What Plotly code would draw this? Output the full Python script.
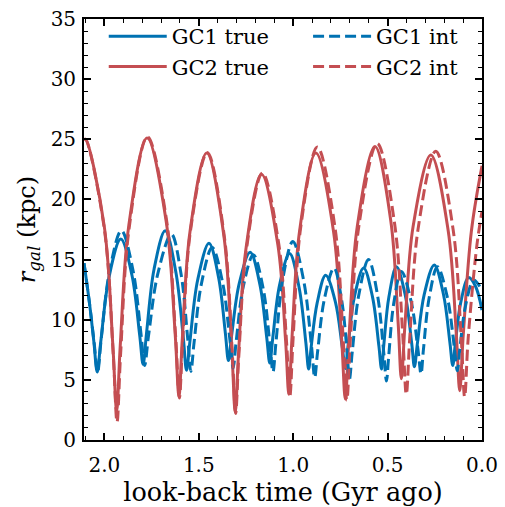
import plotly.graph_objects as go

# look-back time (Gyr ago) and galactocentric radius (kpc)
gc1_true_t = [2.108, 2.080, 2.056, 2.038, 2.019, 1.976, 1.913, 1.854, 1.813, 1.795, 1.777, 1.737, 1.678,
              1.622, 1.582, 1.565, 1.547, 1.506, 1.446, 1.395, 1.359, 1.343, 1.326, 1.286, 1.228, 1.176,
              1.140, 1.124, 1.108, 1.072, 1.019, 0.969, 0.933, 0.918, 0.905, 0.873, 0.828, 0.776, 0.740,
              0.724, 0.709, 0.676, 0.627, 0.580, 0.546, 0.532, 0.520, 0.493, 0.453, 0.406, 0.372, 0.358,
              0.342, 0.306, 0.253, 0.204, 0.170, 0.155, 0.142, 0.113, 0.071, 0.035, 0.000]
gc1_true_r = [14.7, 11.5, 8.2, 5.66, 8.2, 13.5, 16.7, 13.7, 8.7, 6.3, 8.85, 14.2, 17.4,
              14.0, 8.5, 5.8, 8.2, 13.3, 16.35, 13.5, 8.85, 6.6, 8.7, 13.0, 15.6, 12.9,
              8.5, 6.4, 8.5, 12.9, 15.5, 12.7, 8.1, 5.9, 7.7, 11.4, 13.7, 11.45, 7.7,
              5.95, 7.9, 11.9, 14.3, 11.9, 7.8, 5.9, 7.9, 11.9, 14.4, 12.0, 8.0, 6.1,
              8.05, 12.1, 14.55, 12.1, 8.1, 6.2, 7.9, 11.4, 13.5, 12.8, 10.8]

gc2_true_t = [2.108, 2.100, 2.001, 1.955, 1.935, 1.916, 1.871, 1.774, 1.673, 1.625, 1.605, 1.587, 1.546,
              1.458, 1.367, 1.325, 1.307, 1.290, 1.251, 1.168, 1.081, 1.040, 1.023, 1.006, 0.966, 0.880,
              0.786, 0.743, 0.724, 0.705, 0.661, 0.567, 0.483, 0.444, 0.427, 0.408, 0.365, 0.271, 0.179,
              0.136, 0.118, 0.099, 0.056, 0.000]
gc2_true_r = [24.95, 25.0, 17.8, 7.8, 2.4, 7.85, 17.8, 25.1, 18.2, 8.8, 3.6, 8.5, 17.4,
              23.85, 16.95, 7.5, 2.3, 7.05, 15.8, 22.1, 16.2, 8.2, 3.8, 8.6, 17.4, 23.85,
              17.3, 8.3, 3.4, 8.4, 17.7, 24.4, 18.2, 9.7, 5.1, 9.6, 17.75, 23.7, 17.4,
              8.8, 4.1, 8.8, 17.4, 22.8]

gc1_int_t = [2.108, 2.080, 2.055, 2.036, 2.017, 1.973, 1.910, 1.849, 1.806, 1.787, 1.766, 1.716, 1.645,
             1.594, 1.558, 1.542, 1.525, 1.486, 1.429, 1.374, 1.335, 1.318, 1.302, 1.265, 1.211, 1.159,
             1.123, 1.107, 1.091, 1.055, 1.002, 0.944, 0.903, 0.886, 0.871, 0.835, 0.784, 0.743, 0.714,
             0.702, 0.687, 0.652, 0.601, 0.554, 0.520, 0.506, 0.494, 0.467, 0.427, 0.375, 0.339, 0.323,
             0.310, 0.280, 0.236, 0.184, 0.147, 0.131, 0.118, 0.088, 0.045, 0.022, 0.000]
gc1_int_r = [14.7, 11.5, 8.2, 5.66, 8.36, 14.0, 17.4, 14.15, 8.8, 6.2, 8.7, 13.9, 17.1,
             13.8, 8.3, 5.7, 8.1, 13.0, 16.0, 13.1, 8.3, 6.0, 8.2, 12.7, 15.4, 12.6,
             7.9, 5.66, 8.15, 13.4, 16.5, 13.2, 7.8, 5.2, 7.3, 11.7, 14.3, 11.6, 7.2,
             5.05, 7.35, 12.1, 15.0, 12.1, 7.2, 4.9, 7.0, 11.4, 14.0, 11.5, 7.5, 5.5,
             7.55, 11.8, 14.4, 11.9, 7.75, 5.75, 7.5, 11.1, 13.3, 13.0, 12.4]

gc2_int_t = [2.108, 2.100, 2.000, 1.953, 1.933, 1.914, 1.869, 1.772, 1.671, 1.623, 1.603, 1.585, 1.544,
             1.455, 1.365, 1.323, 1.305, 1.288, 1.248, 1.163, 1.076, 1.035, 1.018, 1.000, 0.960, 0.872,
             0.778, 0.735, 0.716, 0.697, 0.652, 0.555, 0.463, 0.420, 0.401, 0.382, 0.339, 0.245, 0.153,
             0.110, 0.092, 0.073, 0.027, 0.000]
gc2_int_r = [24.95, 25.0, 17.5, 7.1, 1.5, 7.2, 17.6, 25.2, 18.3, 8.7, 3.5, 8.4, 17.4,
             23.9, 16.95, 7.4, 2.2, 7.0, 15.8, 22.2, 16.25, 8.1, 3.6, 8.6, 17.7, 24.35,
             17.6, 8.35, 3.3, 8.4, 17.8, 24.65, 18.0, 8.8, 3.8, 8.65, 17.5, 24.0, 17.5,
             8.5, 3.6, 8.5, 16.2, 19.0]

x_ticks = [2.0, 1.5, 1.0, 0.5, 0.0]
x_tick_labels = ["2.0", "1.5", "1.0", "0.5", "0.0"]
y_ticks = [0, 5, 10, 15, 20, 25, 30, 35]

BLUE = "#0072B2"
RED = "#C44E52"
FONT = "DejaVu Serif"
LW = 3
DASH = "11px,5px"

fig = go.Figure()
fig.add_trace(go.Scatter(x=gc1_true_t, y=gc1_true_r, mode="lines", name="GC1 true",
                         line=dict(color=BLUE, width=LW, shape="spline"), legend="legend"))
fig.add_trace(go.Scatter(x=gc2_true_t, y=gc2_true_r, mode="lines", name="GC2 true",
                         line=dict(color=RED, width=LW, shape="spline"), legend="legend"))
fig.add_trace(go.Scatter(x=gc1_int_t, y=gc1_int_r, mode="lines", name="GC1 int",
                         line=dict(color=BLUE, width=LW, shape="spline", dash=DASH), legend="legend2"))
fig.add_trace(go.Scatter(x=gc2_int_t, y=gc2_int_r, mode="lines", name="GC2 int",
                         line=dict(color=RED, width=LW, shape="spline", dash=DASH), legend="legend2"))

axis_common = dict(
    showline=True, linecolor="black", linewidth=1.8, mirror="allticks",
    ticks="inside", ticklen=7, tickwidth=1.5, tickcolor="black",
    showgrid=False, zeroline=False, ticklabeloverflow="allow",
    tickfont=dict(family=FONT, size=20, color="black"),
)

legend_common = dict(xanchor="left", yanchor="top", bgcolor="rgba(0,0,0,0)",
                     font=dict(family=FONT, size=21), tracegroupgap=0, itemwidth=58)

fig.update_layout(
    width=505, height=507,
    margin=dict(l=84, r=18, t=7, b=67),
    paper_bgcolor="white", plot_bgcolor="white",
    font=dict(family=FONT, color="black"),
    xaxis=dict(
        range=[2.108, 0.0], tickvals=x_ticks, ticktext=x_tick_labels,
        minor=dict(dtick=0.1, tick0=0, ticks="inside", ticklen=4, tickwidth=1.2, tickcolor="black"),
        title=dict(text="look-back time (Gyr ago)", font=dict(family=FONT, size=25.5), standoff=5),
        ticklabelstandoff=6,
        **axis_common,
    ),
    yaxis=dict(
        range=[0, 35], tickvals=y_ticks,
        minor=dict(dtick=1, tick0=0, ticks="inside", ticklen=4, tickwidth=1.2, tickcolor="black"),
        title=dict(text="<i>r<sub>gal</sub></i> (kpc)", font=dict(family=FONT, size=24), standoff=8),
        ticklabelstandoff=2,
        **axis_common,
    ),
    legend=dict(x=0.0496, y=1.007, **legend_common),
    legend2=dict(x=0.563, y=1.007, **legend_common),
    showlegend=True,
)

fig.write_html("out.html", config={"displayModeBar": False},
               post_script="document.body.style.margin='0px';document.body.style.overflow='hidden';")
